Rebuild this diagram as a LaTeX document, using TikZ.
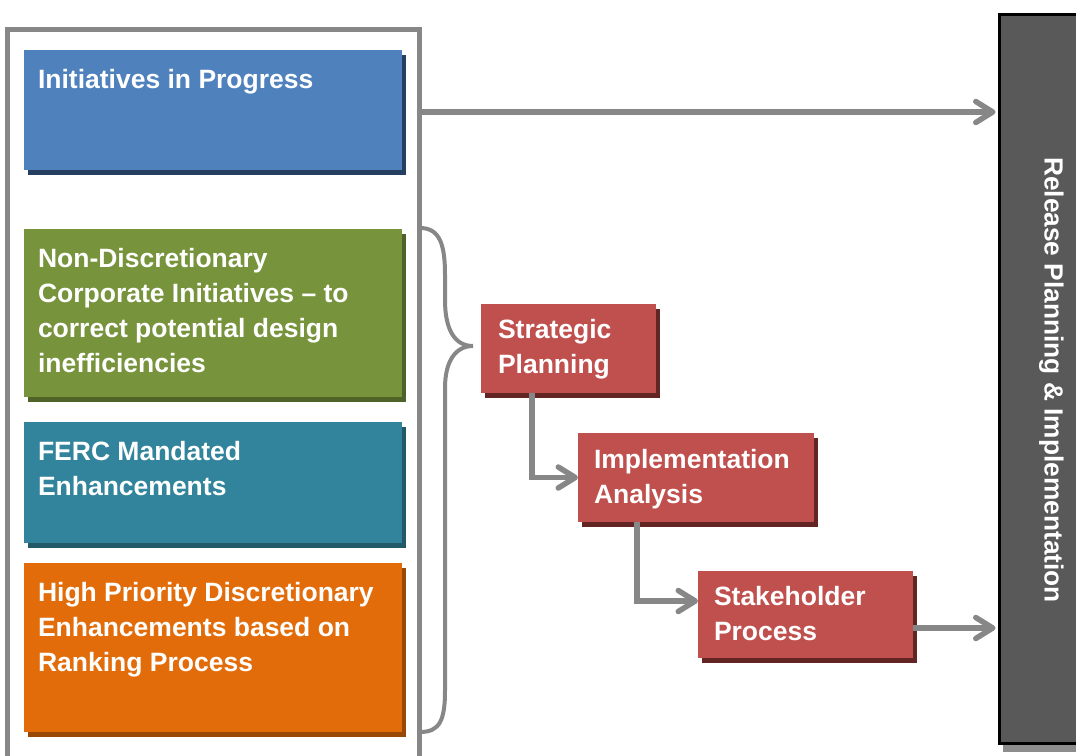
\documentclass[tikz,border=0pt]{standalone}
\usepackage{fontspec}
\setmainfont{Liberation Sans}
\usetikzlibrary{arrows.meta,shadows,calc}
\definecolor{blueF}{HTML}{4F81BD}
\definecolor{blueS}{HTML}{243F60}
\definecolor{greenF}{HTML}{77933C}
\definecolor{greenS}{HTML}{4F6228}
\definecolor{tealF}{HTML}{31849B}
\definecolor{tealS}{HTML}{215968}
\definecolor{orangeF}{HTML}{E36C0A}
\definecolor{orangeS}{HTML}{984807}
\definecolor{redF}{HTML}{C0504D}
\definecolor{redS}{HTML}{632523}
\definecolor{relF}{HTML}{595959}
\definecolor{relS}{HTML}{8C8C8C}
\definecolor{lineG}{HTML}{878787}
\begin{document}
\begin{tikzpicture}[x=1pt,y=-1pt,
  card/.style={rectangle, inner sep=0pt, outer sep=0pt, anchor=north west, fill=#1F,
    drop shadow={shadow xshift=3.5pt, shadow yshift=-5pt, fill=#1S, opacity=1, shadow scale=1}},
  redcard/.style={rectangle, inner sep=0pt, outer sep=0pt, anchor=north west, fill=redF,
    drop shadow={shadow xshift=4pt, shadow yshift=-4.5pt, fill=redS, opacity=1, shadow scale=1}},
  txt/.style={text=white, inner sep=0pt, outer sep=0pt, anchor=north west, align=left,
    font=\fontsize{26.5pt}{35pt}\selectfont\bfseries},
  arr/.style={draw=lineG, line width=5.5pt, -{Straight Barb[length=17pt, width=21pt, round]}},
  brace/.style={draw=lineG, line width=4pt}]
\useasboundingbox (0,0) rectangle (1076,755);
\clip (0,0) rectangle (1076,755);

% outer frame
\node[draw=lineG, line width=5.5pt, inner sep=0pt, outer sep=0pt, anchor=north west,
  minimum width=412pt, minimum height=760pt] (frame) at (7.5,29.5) {};

% left cards
\node[card=blue, minimum width=378pt, minimum height=120pt] (blue) at (24,50) {};
\node[card=green, minimum width=378pt, minimum height=168pt] (green) at (24,229) {};
\node[card=teal, minimum width=378pt, minimum height=121pt] (teal) at (24,422) {};
\node[card=orange, minimum width=378pt, minimum height=169pt] (orange) at (24,563) {};

\node[txt] (tblue) at ([shift={(14,14)}]blue.north west) {\rule{0pt}{24pt}Initiatives in Progress};
\node[txt] (tgreen) at ([shift={(14,14.5)}]green.north west) {\rule{0pt}{24pt}Non-Discretionary\\Corporate Initiatives \textendash{} to\\correct potential design\\inefficiencies};
\node[txt] (tteal) at ([shift={(14,14)}]teal.north west) {\rule{0pt}{24pt}FERC Mandated\\Enhancements};
\node[txt] (torange) at ([shift={(14,14)}]orange.north west) {\rule{0pt}{24pt}High Priority Discretionary\\Enhancements based on\\Ranking Process};

% red process boxes
\node[redcard, minimum width=175pt, minimum height=89pt] (strat) at (481,304) {};
\node[redcard, minimum width=236pt, minimum height=89pt] (impl) at (578,433) {};
\node[redcard, minimum width=215pt, minimum height=87pt] (stake) at (698,571) {};

\node[txt] (tstrat) at ([shift={(17,10.5)}]strat.north west) {\rule{0pt}{24pt}Strategic\\Planning};
\node[txt] (timpl) at ([shift={(16,11.5)}]impl.north west) {\rule{0pt}{24pt}Implementation\\Analysis};
\node[txt] (tstake) at ([shift={(16,10.5)}]stake.north west) {\rule{0pt}{24pt}Stakeholder\\Process};

% release box
\node[draw=black, line width=3pt, fill=relF, inner sep=0pt, outer sep=0pt, anchor=north west,
  minimum width=100pt, minimum height=729pt,
  drop shadow={shadow xshift=3pt, shadow yshift=-8pt, fill=relS, opacity=1, shadow scale=1}] (rel) at (999.5,14.5) {};
\node[rotate=-90, anchor=base, text=white, inner sep=0pt,
  font=\fontsize{26.3pt}{32pt}\selectfont\bfseries] (reltxt) at (1044.5,380) {Release Planning \& Implementation};

% brace
\draw[brace] (420,228) .. controls (440,228) and (445,245) .. (445,275)
  -- (445,300) .. controls (445,330) and (455,346) .. (473,346)
  .. controls (455,346) and (445,362) .. (445,388)
  -- (445,690) .. controls (445,720) and (440,732) .. (420,732);

% connectors
\coordinate (y1) at (0,112);
\draw[arr, shorten >=4pt] (frame.east |- y1) -- (rel.west |- y1);
\draw[arr] ([xshift=51pt]strat.south west) |- (impl.west);
\draw[arr] ([xshift=59pt]impl.south west) |- ([yshift=13.5pt]stake.west);
\draw[arr, shorten >=4pt] ([yshift=-13.5pt]stake.east) -- ([yshift=-13.5pt]stake.east -| rel.west);
\end{tikzpicture}
\end{document}
